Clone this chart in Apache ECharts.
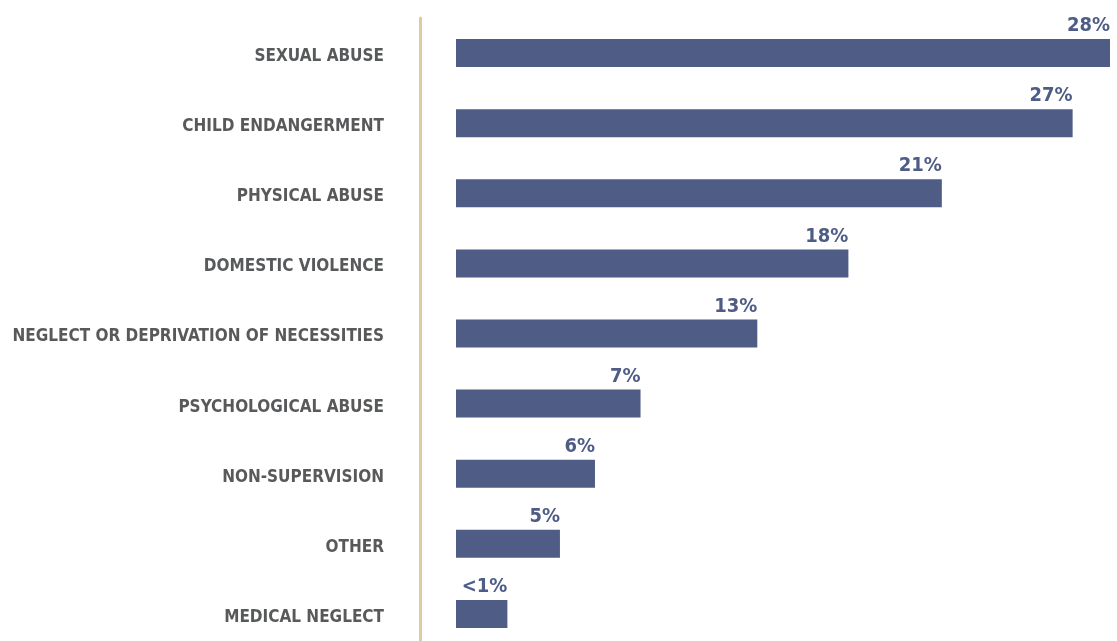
<!DOCTYPE html>
<html>
<head>
<meta charset="utf-8">
<script src="https://cdn.jsdelivr.net/npm/echarts@6/dist/echarts.min.js"></script>
<style>
html,body{margin:0;padding:0;background:#fff;}
#chart{width:1117px;height:641px;}
</style>
</head>
<body>
<div id="chart"></div>
<script>
const categories = [
  "SEXUAL ABUSE",
  "CHILD ENDANGERMENT",
  "PHYSICAL ABUSE",
  "DOMESTIC VIOLENCE",
  "NEGLECT OR DEPRIVATION OF NECESSITIES",
  "PSYCHOLOGICAL ABUSE",
  "NON-SUPERVISION",
  "OTHER",
  "MEDICAL NEGLECT"
];
const barValues = [28, 26.4, 20.8, 16.8, 12.9, 7.9, 5.95, 4.45, 2.2];
const valueLabels = ["28%", "27%", "21%", "18%", "13%", "7%", "6%", "5%", "<1%"];

const FONT = '"Liberation Sans Narrow", "DejaVu Sans Condensed", "Roboto", sans-serif';
const chart = echarts.init(document.getElementById('chart'), null, {renderer: 'canvas'});
chart.setOption({
  backgroundColor: '#ffffff',
  animation: false,
  grid: {left: 456, right: 7, top: 18, height: 631, containLabel: false, outerBoundsMode: 'none'},
  xAxis: {
    type: 'value', min: 0, max: 28, show: false,
    splitLine: {show: false}
  },
  yAxis: {
    type: 'category',
    data: categories,
    inverse: true,
    offset: 36,
    axisLine: {show: true, onZero: false, lineStyle: {color: '#dccba3', width: 3}},
    axisTick: {show: false},
    axisLabel: {
      margin: 36,
      color: '#58595b',
      fontFamily: FONT,
      fontWeight: 'bold',
      fontSize: 17,
      verticalAlign: 'top',
      padding: [-5, 0, 0, 0]
    }
  },
  series: [{
    type: 'bar',
    data: barValues,
    barWidth: 28,
    itemStyle: {color: '#4e5c86'},
    label: {
      show: true,
      position: ['100%', 0],
      align: 'right',
      verticalAlign: 'bottom',
      offset: [0, -3],
      color: '#4e5c86',
      fontFamily: FONT,
      fontWeight: 'bold',
      fontSize: 20,
      formatter: function (p) { return valueLabels[p.dataIndex]; }
    }
  }]
});
</script>
</body>
</html>
